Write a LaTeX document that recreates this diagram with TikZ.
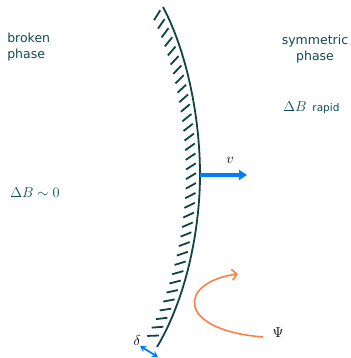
\documentclass[tikz,border=0pt]{standalone}
\usepackage{fontspec}
\setsansfont{DejaVu Sans}
\usetikzlibrary{arrows.meta,decorations.markings}
\definecolor{wall}{RGB}{16,68,66}
\definecolor{txt}{RGB}{12,74,80}
\definecolor{velo}{RGB}{0,128,240}
\definecolor{field}{RGB}{250,128,68}
\tikzset{
  every picture/.style={line width=0.5pt},
  phase/.style={font=\sffamily\fontsize{12.5}{16.5}\selectfont, text=txt, inner sep=0pt},
  mathlbl/.style={font=\fontsize{14}{15}\selectfont, text=txt, inner sep=0pt},
  greek/.style={font=\fontsize{14}{15}\selectfont, text=black, inner sep=0pt},
  wallline/.style={draw=wall, line width=1.8pt},
  hatched/.style={postaction={decorate, decoration={markings,
      mark=between positions 8pt and -4pt step 10pt with
      {\draw[wall, line width=1.8pt] (-3pt,14pt) -- (3pt,4pt);}}}},
  push/.style={-{Triangle[length=8pt,width=10pt]}, draw=velo, line width=3.4pt},
  thick/.style={{Stealth[length=6pt,width=7pt]}-{Stealth[length=6pt,width=7pt]}, draw=velo, line width=1.8pt},
  swirl/.style={-{Straight Barb[length=5pt,width=11pt]}, draw=field, line width=1.6pt},
}
\begin{document}
\begin{tikzpicture}[x=1pt,y=-1pt]
  \useasboundingbox (0,0) rectangle (350,358);
  % wall between the two phases
  \coordinate (wbot) at (157,347);
  \coordinate (wmid) at (200,175);
  \coordinate (wtop) at (163,7);
  \draw[wallline, hatched] (wbot) .. controls (188,295) and (200,225) .. (wmid)
    .. controls (200,115) and (186,50) .. (wtop);
  % labels
  \node[phase, align=left, anchor=west] (broken) at (7,47) {broken\\phase};
  \node[phase, align=center] (sym) at (315,49) {symmetric\\phase};
  \node[mathlbl, anchor=west] (rapid) at (283,108) {$\Delta B$\hspace{6pt}{\sffamily\fontsize{10.5}{12}\selectfont rapid}};
  \node[mathlbl, anchor=west] (zero) at (10,193) {$\Delta B\sim 0$};
  % wall velocity
  \coordinate (vtip) at (247,175);
  \draw[push] (wmid) -- (vtip);
  \node[greek] (vlbl) at (230,160) {$v$};
  % wall thickness
  \coordinate (da) at (140,346);
  \coordinate (db) at (158,357);
  \draw[thick] (da) -- (db);
  \node[greek] (dlbl) at (137,340) {$\delta$};
  % reflected particle
  \coordinate (ps) at (263,337);
  \coordinate (pe) at (238,274);
  \draw[swirl] (ps) .. controls (175,330) and (178,282) .. (pe);
  \node[greek] (psi) at (278,333) {$\Psi$};
\end{tikzpicture}
\end{document}
